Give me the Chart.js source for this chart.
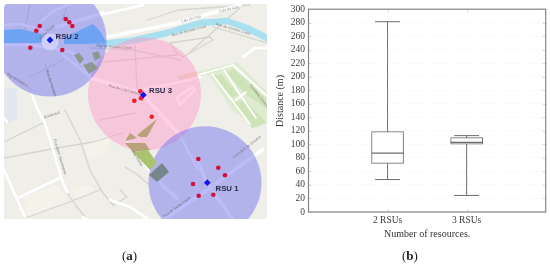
<!DOCTYPE html>
<html><head><meta charset="utf-8">
<script src="https://cdn.jsdelivr.net/npm/chart.js@4/dist/chart.umd.min.js"></script>
<style>
html,body{margin:0;padding:0;background:#fff;width:550px;height:265px;overflow:hidden}
canvas{position:absolute;top:0}
#cvA{left:0;filter:blur(.5px)}#cvB{left:275px;filter:blur(.35px)}
.cap{position:absolute;top:248px;font:13px 'Liberation Serif',serif;color:#222;line-height:16px}
</style></head><body>
<canvas id="cvA" width="275" height="265"></canvas>
<canvas id="cvB" width="275" height="265"></canvas>
<div class="cap" style="left:122px">(<b>a</b>)</div>
<div class="cap" style="left:402px">(<b>b</b>)</div>
<script>
/* ---------- panel (b) data ---------- */
const categories = ['', '2 RSUs', '3 RSUs', ''];
const whiskerLow = [48, 24.5];
const quartile1  = [72, 100.5];
const medians    = [87, 103];
const quartile3  = [119, 110];
const whiskerHigh= [281.5, 113];
const boxLabels  = ['2 RSUs', '3 RSUs'];

/* ---------- panel (a) data (map coordinates) ---------- */
const rsuNames   = ['RSU 1', 'RSU 2', 'RSU 3'];
const rsuCenters = [{x:207.3,y:182.7},{x:50,y:40},{x:143.3,y:95}];
const coverageBlue = [{x:205,y:182.7,r:56.5},{x:50,y:40,r:56.5}];
const coveragePink = [{x:144.5,y:94,r:56.5}];
const vehiclesBlue = [[198.3,159],[218.3,167.7],[225,175.3],[193,184],[198.7,195.7],[213.3,194.7],
  [65.7,19],[69.3,22.3],[72.3,26],[39.7,26],[36.3,30.7],[30.3,47.7],[62.3,50]];
const vehiclesPink = [[140.3,91.3],[141,98.3],[134.3,100.7],[151.7,116.7]];
const rsuLabels = [[227,188.7],[67,36.7],[160.5,91.3]];
const roundabout = [{x:50,y:42,r:8.5}];
const canal = [[100,44],[133,40.5],[167,33],[200,23],[227,21],[247,28],[267,38]];
const waterPieces = [
  [[4,30],[20,29],[42,34],[43,43],[20,43],[4,43]],
  [[64,38],[76,32],[93,24],[100,31],[106.7,43],[85,44],[64,44]]];
const parkBase = [[197,72],[237,62],[267,92],[267,120],[257,128],[232,110],[210,76]];
const parkInner = [
  [[213,76],[221,74],[238,95],[232,98]],
  [[226,72],[234,69],[266,99],[266,108],[244,93]],
  [[232,103],[245,100],[267,123],[252,128]]];
const blocks = [
  [[4,88],[17,88],[17,118],[4,125]],
  [[23,197],[57,185],[67,200],[28,217]],
  [[72,188],[87,185],[95,190],[75,198]],
  [[85,145],[112,135],[105,155],[88,160]]];
const tanBlocks = [
  [[137,135],[157,119],[147,137],[140,137]],
  [[125,143],[145,143],[150,150],[133,152]],
  [[125,141],[137,138],[130,133]]];
const tanPale = [[178,76],[198,71],[201,76],[180,81]];
const greenBlock = [[133,152],[148,150],[157,163],[150,170]];
const grayBlocks = [
  [[149,175],[162,163],[169,172],[157,182]],
  [[74,55],[79,53],[84,59],[80,64]],
  [[92,53],[98,51],[101,57],[95,61]],
  [[83,65],[92,62],[98,68],[89,74]]];
const whiteRoads = [
  [[100,15],[143,5]],
  [[107,37],[177,23],[240,5]],
  [[243,57],[255,48],[267,48]],
  [[32,95],[38,110],[45,123],[62,180],[67,192]],
  [[60,178],[20,197]],
  [[4,170],[25,217]],
  [[110,200],[130,207],[147,218]],
  [[83,217],[87,220]],
  [[4,118],[7,122]],
  [[90,78],[140,92],[157,110],[177,132]],
  [[143,90],[180,82],[200,77]],
  [[177,97],[193,87],[195,90],[180,105],[177,97]],
  [[63,55],[88,75]],
  [[4,25],[20,24],[42,30]],
  [[4,45],[30,45],[43,47]],
  [[53,48],[73,53],[90,75]],
  [[57,27],[80,20],[103,13]],
  [[163,220],[207,190],[262,150]],
  [[160,183],[177,198]],
  [[198,162],[207,183],[233,220]],
  [[177,130],[198,170]],
  [[125,140],[137,150],[150,172],[157,180]],
  [[40,22],[55,10],[70,4]]];
const parkPaths = [
  [[198,75],[233,65],[267,96]],
  [[212,74],[250,124]],
  [[224,70],[241,96],[256,118]],
  [[236,100],[246,92]]];
const grayRoads = [
  [[4,142],[43,123]],
  [[4,158],[57,148],[93,142],[123,133]],
  [[65,110],[80,140],[90,170],[103,193],[113,205]],
  [[65,190],[77,207],[85,217]],
  [[25,218],[67,203],[100,190]],
  [[135,45],[137,90]],
  [[103,62],[177,55]],
  [[90,48],[133,50],[180,60]],
  [[170,43],[210,37],[213,40],[183,57],[177,53],[170,43]],
  [[213,27],[267,43]],
  [[190,52],[215,30],[240,8]],
  [[45,63],[55,95]],
  [[8,73],[32,90]],
  [[30,77],[63,60]],
  [[30,3],[25,30]],
  [[68,4],[62,20]],
  [[148,20],[178,10],[250,5]],
  [[113,205],[127,197],[120,190]],
  [[100,120],[135,113]],
  [[125,167],[138,175],[148,184]]];
const mapTexts = [
  ['Cais do Cojo',191,19,-16],['Cais do Cojo',229,9,-14],
  ['Rua de Homem Cristo',189,31,-15],['Rua de Homem Cristo',233,29,16],
  ['Rua de Homem Cristo',114,47,3],['Avenida 5 de Outubro',247,147,-38],
  ['Rua de Santa Joana',177,207,-36],['Cemitério Central',259,96,52],
  ['Ponte Praça',47,32,-45],['Rua Mário Sacramento',60,157,73],
  ['Boulevard',52,115,-18],['Rua do Carmo',17,80,30],
  ['Rua das Pombas',51,83,72],['Rua de Luís Cipriano',125,90,15],
  ['Rua Direita',137,158,58]];

/* ---------- helpers ---------- */
const pts = a => a.map(p => ({x:p[0], y:p[1]}));
const poly = (a, color) => ({type:'line', data:pts(a), fill:'shape', backgroundColor:color,
  borderWidth:0, borderColor:color, pointRadius:0, tension:0});
const road = (a, color, w) => ({type:'line', data:pts(a), fill:false, borderColor:color,
  borderWidth:w, pointRadius:0, tension:0, borderCapStyle:'round', borderJoinStyle:'round'});
const bubble = (d, color) => ({type:'bubble', data:d, backgroundColor:color, borderWidth:0, clip:0});
const dots = (a, color, style, r) => ({type:'line', showLine:false, data:pts(a), pointStyle:style,
  pointRadius:r, pointBackgroundColor:color, pointBorderColor:color, pointBorderWidth:0, clip:0});

/* back-to-front list; Chart.js paints the first dataset on top, so it is reversed */
const layers = [
  poly(parkBase,'#dfebd0'),
  ...parkInner.map(a=>poly(a,'#cfe3b8')),
  ...blocks.map((a,i)=>poly(a, i===0?'#e3e7ee':'#f4f2e9')),
  ...grayRoads.map(a=>road(a,'#d5d4ce',1.3)),
  road(canal,'#a8e0f0',6.5),
  poly(tanPale,'#ecdcc4'),
  ...whiteRoads.map((a,i)=>road(a,'#ffffff', i>=16&&i<=19||i===9||i===1?3.6:2.6)),
  ...parkPaths.map(a=>road(a,'#ffffff',1.8)),
  bubble(coveragePink,'rgba(255,150,200,0.45)'),
  bubble(coverageBlue,'rgba(112,112,240,0.47)'),
  ...waterPieces.map(a=>poly(a,'#6ea2f2')),
  bubble(roundabout,'#cfd0fa'),
  ...tanBlocks.map(a=>poly(a,'#b9a279')),
  poly(greenBlock,'#a9c36f'),
  ...grayBlocks.map((a,i)=>poly(a, i===0?'#76868b':'#8a9a93')),
  dots(vehiclesBlue,'#d2103e','circle',2.3),
  dots(vehiclesPink,'#f01c34','circle',2.3),
  dots(rsuCenters.map(c=>[c.x,c.y]),'#1414f0','rectRot',3.4)
];

const mapText = {id:'mapText', afterDatasetsDraw(chart){
  const {ctx, scales:{x,y}} = chart;
  ctx.save();
  ctx.beginPath(); ctx.rect(chart.chartArea.left,chart.chartArea.top,chart.chartArea.width,chart.chartArea.height); ctx.clip();
  ctx.textAlign='center'; ctx.textBaseline='middle';
  mapTexts.forEach(t=>{
    ctx.save();
    ctx.translate(x.getPixelForValue(t[1]), y.getPixelForValue(t[2]));
    ctx.rotate(t[3]*Math.PI/180);
    ctx.font="3.6px 'Liberation Sans'";
    ctx.fillStyle='rgba(90,90,90,0.75)';
    ctx.fillText(t[0],0,0);
    ctx.restore();
  });
  ctx.font="bold 7.8px 'Liberation Sans'";
  ctx.fillStyle='#2a2a4a';
  rsuNames.forEach((n,i)=>ctx.fillText(n, x.getPixelForValue(rsuLabels[i][0]), y.getPixelForValue(rsuLabels[i][1])));
  ctx.restore();
}};

new Chart(document.getElementById('cvA'),{
  type:'line',
  data:{datasets:layers.slice().reverse()},
  options:{
    responsive:false, animation:false, events:[],
    layout:{autoPadding:false,padding:{left:4,top:4,right:8,bottom:46}},
    plugins:{legend:{display:false},tooltip:{enabled:false}},
    scales:{
      x:{type:'linear',min:4,max:267,display:false},
      y:{type:'linear',min:4,max:219,reverse:true,display:false}
    }
  },
  plugins:[{id:'bg',beforeDatasetsDraw(c){
    const a=c.chartArea; c.ctx.save(); c.ctx.fillStyle='#efeee9';
    c.ctx.fillRect(a.left,a.top,a.width,a.height); c.ctx.restore();
  }}, mapText]
});

/* ---------- panel (b) ---------- */
const lineColor = '#6e6e6e';
const serif = "'Liberation Serif', serif";
const whiskers = boxLabels.map((l,i)=>({type:'line',data:[{x:l,y:whiskerLow[i]},{x:l,y:whiskerHigh[i]}],
  borderColor:lineColor,borderWidth:1,pointRadius:0,order:3}));
const marks = (vals, r, w, order) => ({type:'line',showLine:false,
  data:boxLabels.map((l,i)=>({x:l,y:vals[i]})),pointStyle:'line',pointRadius:r,
  pointBorderColor:lineColor,pointBorderWidth:w,order});

const frame = {id:'frame',afterDraw(c){
  const {ctx,chartArea:a,scales:{x,y}} = c;
  ctx.save();
  ctx.strokeStyle='#d8d8d8'; ctx.lineWidth=1; ctx.beginPath();
  y.ticks.forEach(t=>{const p=Math.round(y.getPixelForValue(t.value))+.5;
    ctx.moveTo(a.left,p);ctx.lineTo(a.left+3,p);ctx.moveTo(a.right-3,p);ctx.lineTo(a.right,p);});
  boxLabels.forEach(l=>{const p=Math.round(x.getPixelForValue(l))+.5;
    ctx.moveTo(p,a.top);ctx.lineTo(p,a.top+3);ctx.moveTo(p,a.bottom-3);ctx.lineTo(p,a.bottom);});
  ctx.stroke();
  ctx.strokeStyle='#858585'; ctx.lineWidth=1.2;
  ctx.strokeRect(a.left,a.top,a.width,a.height);
  ctx.translate(5.7,101); ctx.rotate(-Math.PI/2);
  ctx.font="10px "+serif; ctx.fillStyle='#333'; ctx.textAlign='center'; ctx.textBaseline='middle';
  ctx.fillText('Distance (m)',0,0);
  ctx.restore();
}};

new Chart(document.getElementById('cvB'),{
  data:{labels:categories,datasets:[
    ...whiskers,
    {type:'bar',data:categories.map(c=>{const i=boxLabels.indexOf(c);return i<0?null:[quartile1[i],quartile3[i]];}),
      barThickness:32,backgroundColor:'#ffffff',borderColor:lineColor,borderWidth:1,borderSkipped:false,order:2},
    marks(medians,16,1.2,1),
    marks(whiskerLow,12.5,1,1),
    marks(whiskerHigh,12.5,1,1)
  ]},
  options:{
    responsive:false,animation:false,events:[],
    layout:{autoPadding:false,padding:{left:0,top:6.5,right:4.3,bottom:0}},
    plugins:{legend:{display:false},tooltip:{enabled:false}},
    scales:{
      x:{type:'category',offset:false,
        grid:{display:false,drawTicks:false},border:{display:false},
        ticks:{padding:3,autoSkip:false,maxRotation:0,font:{family:serif,size:9.5},color:'#3c3c3c'},
        title:{display:true,text:'Number of resources.',font:{family:serif,size:10},color:'#333',padding:{top:0,bottom:25}},
        afterFit(s){s.height=53;}
      },
      y:{type:'linear',min:0,max:300,
        grid:{color:'#f1f1f1',drawTicks:false},border:{display:false,dash:[1,2]},
        ticks:{stepSize:20,autoSkip:false,padding:3.5,font:{family:serif,size:9.5},color:'#3c3c3c'},
        afterFit(s){s.width=33.5;}
      }
    }
  },
  plugins:[frame]
});
</script></body></html>
